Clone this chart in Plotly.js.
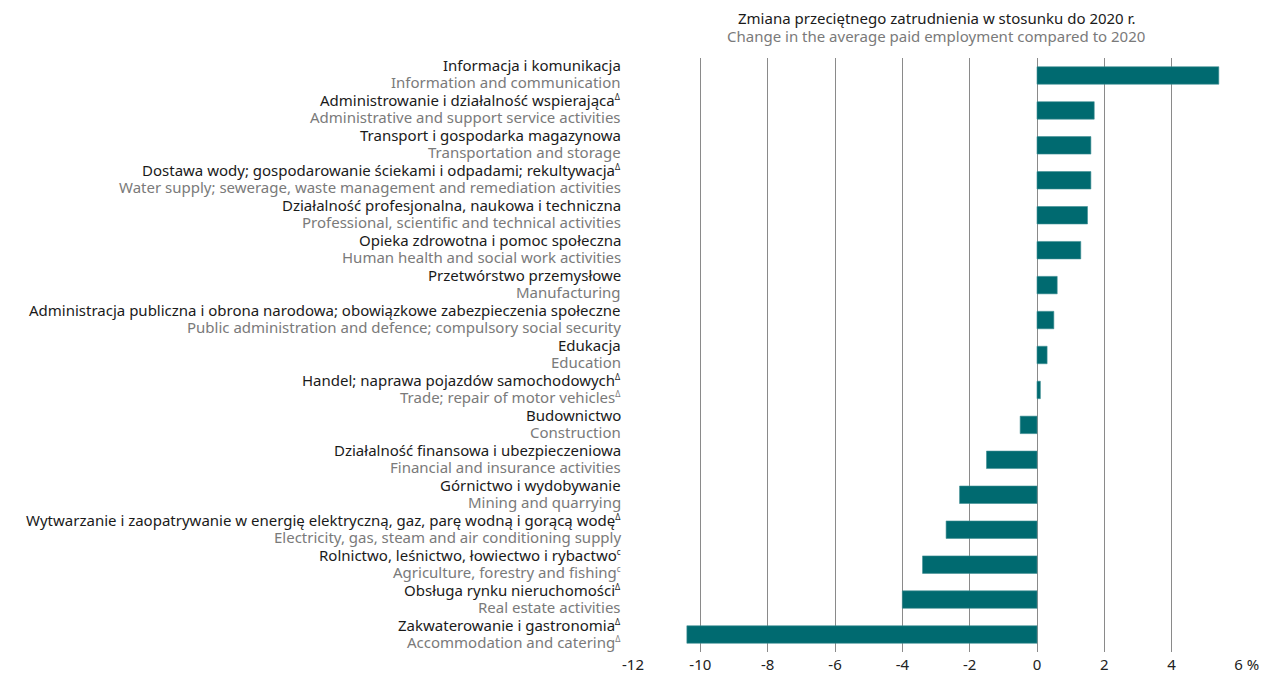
<!DOCTYPE html>
<html>
<head>
<meta charset="utf-8">
<script src="https://cdn.plot.ly/plotly-3.0.1.min.js"></script>
<style>html,body{margin:0;padding:0;background:#fff;}#chart{width:1263px;height:676px;}</style>
</head>
<body>
<div id="chart"></div>
<script>
const labelsPL = [
  "Informacja i komunikacja",
  "Administrowanie i działalność wspierająca<sup><span style='font-size:8px'>Δ</span></sup>",
  "Transport i gospodarka magazynowa",
  "Dostawa wody; gospodarowanie ściekami i odpadami; rekultywacja<sup><span style='font-size:8px'>Δ</span></sup>",
  "Działalność profesjonalna, naukowa i techniczna",
  "Opieka zdrowotna i pomoc społeczna",
  "Przetwórstwo przemysłowe",
  "Administracja publiczna i obrona narodowa; obowiązkowe zabezpieczenia społeczne",
  "Edukacja",
  "Handel; naprawa pojazdów samochodowych<sup><span style='font-size:8px'>Δ</span></sup>",
  "Budownictwo",
  "Działalność finansowa i ubezpieczeniowa",
  "Górnictwo i wydobywanie",
  "Wytwarzanie i zaopatrywanie w energię elektryczną, gaz, parę wodną i gorącą wodę<sup><span style='font-size:8px'>Δ</span></sup>",
  "Rolnictwo, leśnictwo, łowiectwo i rybactwo<sup><span style='font-size:8px'>c</span></sup>",
  "Obsługa rynku nieruchomości<sup><span style='font-size:8px'>Δ</span></sup>",
  "Zakwaterowanie i gastronomia<sup><span style='font-size:8px'>Δ</span></sup>"
];
const labelsEN = [
  "Information and communication",
  "Administrative and support service activities",
  "Transportation and storage",
  "Water supply; sewerage, waste management and remediation activities",
  "Professional, scientific and technical activities",
  "Human health and social work activities",
  "Manufacturing",
  "Public administration and defence; compulsory social security",
  "Education",
  "Trade; repair of motor vehicles<sup><span style='font-size:8px'>Δ</span></sup>",
  "Construction",
  "Financial and insurance activities",
  "Mining and quarrying",
  "Electricity, gas, steam and air conditioning supply",
  "Agriculture, forestry and fishing<sup><span style='font-size:8px'>c</span></sup>",
  "Real estate activities",
  "Accommodation and catering<sup><span style='font-size:8px'>Δ</span></sup>"
];
const values = [5.4, 1.7, 1.6, 1.6, 1.5, 1.3, 0.6, 0.5, 0.3, 0.1, -0.5, -1.5, -2.3, -2.7, -3.4, -4.0, -10.4];
const tickVals = [-12, -10, -8, -6, -4, -2, 0, 2, 4, 6];
const tickText = ["-12", "-10", "-8", "-6", "-4", "-2", "0", "2", "4", "\u00A0\u00A0\u00A0\u00A06 %"];
const titlePL = "Zmiana przeciętnego zatrudnienia w stosunku do 2020 r.";
const titleEN = "Change in the average paid employment compared to 2020";

const FONT = "Noto Sans, Open Sans, sans-serif";
const GRAY = "#7a7a7a";
const BLACK = "#1a1a1a";
const cats = labelsPL.map((_, i) => "c" + i);

const trace = {
  type: "bar",
  orientation: "h",
  x: values,
  y: cats,
  width: 0.5,
  marker: {color: "#006a70", line: {color: "#3f8f94", width: 0.6}},
  hoverinfo: "x"
};

const annotations = [];
cats.forEach((c, i) => {
  annotations.push({
    xref: "paper", yref: "y", x: 0, y: c,
    xanchor: "right", yanchor: "middle",
    xshift: -10, yshift: 10,
    showarrow: false, text: labelsPL[i],
    font: {family: FONT, size: 15, color: BLACK}
  });
  annotations.push({
    xref: "paper", yref: "y", x: 0, y: c,
    xanchor: "right", yanchor: "middle",
    xshift: -10, yshift: -7,
    showarrow: false, text: labelsEN[i],
    font: {family: FONT, size: 15, color: GRAY}
  });
});
annotations.push({
  xref: "paper", yref: "paper", x: 0.5, y: 1, yshift: 40,
  xanchor: "center", yanchor: "middle", showarrow: false,
  text: titlePL, font: {family: FONT, size: 15, color: BLACK}
});
annotations.push({
  xref: "paper", yref: "paper", x: 0.5, y: 1, yshift: 22,
  xanchor: "center", yanchor: "middle", showarrow: false,
  text: titleEN, font: {family: FONT, size: 15, color: GRAY}
});

const layout = {
  width: 1263, height: 676,
  margin: {l: 633, r: 24, t: 58, b: 24},
  paper_bgcolor: "#fff", plot_bgcolor: "#fff",
  font: {family: FONT, color: BLACK},
  showlegend: false,
  xaxis: {
    range: [-12, 6],
    tickvals: tickVals, ticktext: tickText,
    showgrid: true, gridcolor: "#8a8a8a", gridwidth: 1,
    zeroline: true, zerolinecolor: "#8a8a8a", zerolinewidth: 1,
    showline: false, ticks: "", automargin: false,
    ticklabelstandoff: 2,
    tickfont: {family: FONT, size: 15, color: "#222"}
  },
  yaxis: {
    type: "category",
    categoryorder: "array", categoryarray: cats,
    range: [16.5, -0.5],
    showticklabels: false, showgrid: false, zeroline: false, ticks: "",
    automargin: false
  },
  annotations: annotations
};

Plotly.newPlot("chart", [trace], layout, {displayModeBar: false, staticPlot: true});
</script>
</body>
</html>
